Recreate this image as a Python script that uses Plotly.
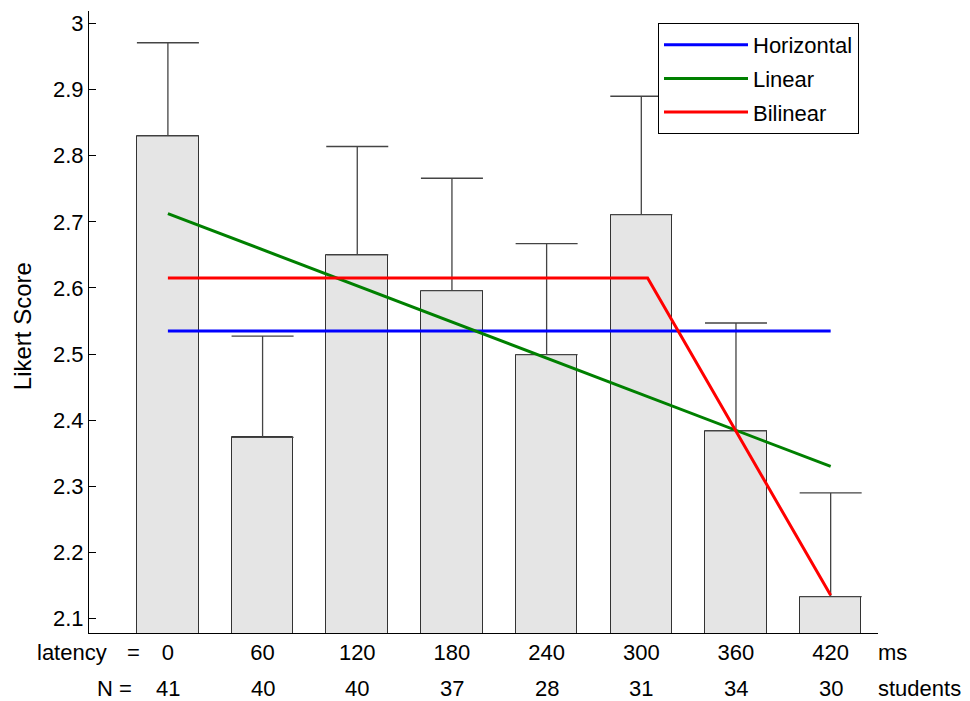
import plotly.graph_objects as go

latency = [0, 60, 120, 180, 240, 300, 360, 420]
n_students = [41, 40, 40, 37, 28, 31, 34, 30]
mean_score = [2.830, 2.374, 2.650, 2.596, 2.499, 2.711, 2.384, 2.133]
upper_err = [2.971, 2.527, 2.814, 2.766, 2.667, 2.890, 2.547, 2.290]

horiz_x = [0, 420]
horiz_y = [2.535, 2.535]
linear_x = [0, 420]
linear_y = [2.7125, 2.330]
bilin_x = [0, 304, 420]
bilin_y = [2.615, 2.615, 2.135]

FONT = "Arial, Liberation Sans, sans-serif"
FS = 22

err_plus = [u - m for u, m in zip(upper_err, mean_score)]

fig = go.Figure()
fig.add_trace(go.Bar(
    x=latency, y=mean_score, width=39,
    marker=dict(color="#e5e5e5", line=dict(color="#333333", width=1)),
    error_y=dict(type="data", symmetric=False, array=err_plus,
                 arrayminus=[0] * len(latency), color="#444444",
                 thickness=1.3, width=31),
    showlegend=False, hoverinfo="skip"))

fig.add_trace(go.Scatter(x=horiz_x, y=horiz_y, mode="lines", name="Horizontal",
                         line=dict(color="#0000ff", width=3), legendgroup="a"))
fig.add_trace(go.Scatter(x=linear_x, y=linear_y, mode="lines", name="Linear",
                         line=dict(color="#008000", width=3), legendgroup="b"))
fig.add_trace(go.Scatter(x=bilin_x, y=bilin_y, mode="lines", name="Bilinear",
                         line=dict(color="#ff0000", width=3), legendgroup="c"))

annotations = []
for xv, nv in zip(latency, n_students):
    annotations.append(dict(x=xv, xref="x", y=0, yref="paper", yanchor="middle",
                            yshift=-55, text=str(nv), showarrow=False,
                            font=dict(size=FS, color="black", family=FONT)))
annotations += [
    dict(x=(72 - 89) / 789, xref="paper", y=0, yref="paper", yanchor="middle",
         yshift=-19, text="latency", showarrow=False, xanchor="center",
         font=dict(size=FS, color="black", family=FONT)),
    dict(x=(133 - 89) / 789, xref="paper", y=0, yref="paper", yanchor="middle",
         yshift=-19, text="=", showarrow=False, xanchor="center",
         font=dict(size=FS, color="black", family=FONT)),
    dict(x=(134 - 89) / 789, xref="paper", y=0, yref="paper", yanchor="middle",
         yshift=-55, text="N =", showarrow=False, xanchor="right",
         font=dict(size=FS, color="black", family=FONT)),
    dict(x=(876 - 89) / 789, xref="paper", y=0, yref="paper", yanchor="middle",
         yshift=-19, text="ms", showarrow=False, xanchor="left",
         font=dict(size=FS, color="black", family=FONT)),
    dict(x=(876 - 89) / 789, xref="paper", y=0, yref="paper", yanchor="middle",
         yshift=-55, text="students", showarrow=False, xanchor="left",
         font=dict(size=FS, color="black", family=FONT)),
    dict(x=(22.5 - 89) / 789, xref="paper", y=1 - (326.7 - 11) / 622, yref="paper",
         text="Likert Score", textangle=-90, showarrow=False,
         xanchor="center", yanchor="middle",
         font=dict(size=24, color="black", family=FONT)),
]

fig.update_layout(
    width=970, height=701,
    margin=dict(l=89, r=92, t=11, b=68),
    paper_bgcolor="white", plot_bgcolor="white",
    font=dict(family=FONT, size=FS, color="black"),
    bargap=0,
    xaxis=dict(range=[-50, 450], tickvals=latency,
               ticktext=[str(v) for v in latency],
               showgrid=False, zeroline=False, showline=True,
               linecolor="black", linewidth=1, ticks="",
               ticklabelstandoff=0,
               tickfont=dict(size=FS, color="black", family=FONT)),
    yaxis=dict(range=[2.078, 3.019], tickvals=[2.1, 2.2, 2.3, 2.4, 2.5, 2.6, 2.7, 2.8, 2.9, 3.0],
               ticktext=["2.1", "2.2", "2.3", "2.4", "2.5", "2.6", "2.7", "2.8", "2.9", "3"],
               showgrid=False, zeroline=False, showline=True,
               linecolor="black", linewidth=1, ticks="inside", ticklen=7,
               tickcolor="black",
               tickfont=dict(size=FS, color="black", family=FONT)),
    legend=dict(x=(658 - 89) / 789, y=1 - (23 - 11) / 622, xanchor="left", yanchor="top",
                bordercolor="black", borderwidth=1, bgcolor="white",
                font=dict(size=FS, color="black", family=FONT),
                traceorder="grouped", tracegroupgap=2, itemwidth=84,
                entrywidth=120, entrywidthmode="pixels"),
    annotations=annotations,
)

fig.write_html("out.html")
